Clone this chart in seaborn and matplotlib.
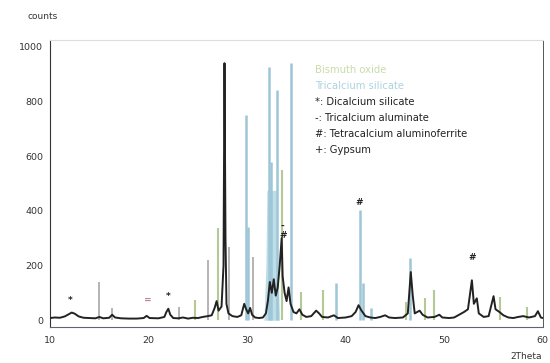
import matplotlib
matplotlib.use("Agg")
import matplotlib.pyplot as plt
import seaborn as sns
import pandas as pd
from matplotlib.ticker import MultipleLocator

# ---- data ----
two_theta = [10.0, 10.5, 11.0, 11.5, 11.9, 12.2, 12.5, 12.9, 13.4, 14.0, 14.6, 15.0, 15.4, 16.0,
             16.3, 16.6, 17.2, 18.0, 18.8, 19.5, 19.8, 20.1, 21.0, 21.6, 21.8, 22.0, 22.2, 22.5,
             23.0, 23.5, 24.0, 24.5, 25.0, 25.5, 26.0, 26.4, 26.7, 26.9, 27.1, 27.4, 27.6, 27.7,
             27.8, 27.9, 28.1, 28.5, 29.0, 29.4, 29.7, 29.9, 30.1, 30.3, 30.5, 30.8, 31.2, 31.6,
             31.9, 32.1, 32.3, 32.5, 32.7, 32.9, 33.1, 33.3, 33.5, 33.6, 33.8, 34.0, 34.2, 34.4,
             34.7, 35.0, 35.3, 35.6, 36.0, 36.5, 37.0, 37.3, 37.6, 38.2, 38.8, 39.2, 40.0, 40.6,
             41.0, 41.3, 41.6, 42.0, 42.5, 43.0, 43.5, 44.0, 44.4, 45.0, 45.8, 46.3, 46.6, 46.8,
             47.0, 47.5, 47.8, 48.3, 49.0, 49.5, 49.8, 50.5, 51.0, 51.5, 52.0, 52.4, 52.8, 53.0,
             53.3, 53.5, 54.0, 54.5, 55.0, 55.2, 55.6, 56.0, 56.5, 57.0, 57.5, 58.0, 58.6, 59.2,
             59.5, 59.8, 60.0]
counts = [8, 10, 9, 14, 22, 28, 24, 14, 9, 8, 7, 12, 7, 9,
          20, 10, 7, 6, 6, 8, 16, 8, 7, 12, 30, 42, 20, 8,
          7, 10, 6, 9, 8, 12, 15, 18, 45, 70, 35, 50, 200, 940,
          300, 60, 25, 15, 12, 18, 60, 40, 25, 45, 20, 10, 8, 10,
          25, 70, 140, 100, 150, 90, 120, 200, 300, 160, 100, 70, 120, 60,
          30, 25, 40, 20, 12, 15, 35, 25, 12, 10, 18, 8, 10, 15,
          30, 55, 35, 15, 10, 8, 12, 18, 10, 8, 10, 25, 176, 90,
          25, 35, 20, 10, 12, 20, 10, 8, 10, 20, 30, 40, 146, 60,
          80, 25, 12, 15, 88, 40, 30, 18, 10, 8, 12, 15, 10, 15,
          33, 10, 8]

# Bismuth oxide reference sticks
bi_pos = [24.7, 27.0, 33.5, 35.5, 37.7, 46.1, 48.0, 49.0, 55.7, 58.4]
bi_int = [73, 337, 549, 103, 110, 66, 80, 110, 85, 48]

# Tricalcium silicate reference sticks
c3s_pos = [29.9, 30.1, 32.2, 32.4, 33.0, 34.4, 39.0, 41.4, 41.8, 42.6, 46.5]
c3s_int = [750, 340, 927, 578, 842, 940, 135, 403, 135, 44, 227]

# filled tricalcium silicate band
c3s_band_x = [31.7, 31.9, 32.0, 33.0, 33.1, 33.3]
c3s_band_y = [0, 200, 475, 475, 200, 0]

# other (grey) sticks
grey_pos = [15.0, 16.3, 23.1, 26.0, 28.2, 30.6]
grey_int = [139, 44, 48, 220, 267, 230]

# phase markers: (2theta, counts, symbol)
mark_x = [12.0, 22.0, 19.9, 33.6, 33.7, 41.4, 52.8]
mark_y = [55, 70, 55, 325, 295, 413, 212]
mark_s = ["*", "*", "=", "-", "#", "#", "#"]

legend_lines = ["Bismuth oxide", "Tricalcium silicate", "*: Dicalcium silicate",
                "-: Tricalcium aluminate", "#: Tetracalcium aluminoferrite", "+: Gypsum"]
legend_colors = ["#c9dcaa", "#add2e2", "#222222", "#222222", "#222222", "#222222"]

x_ticks = [10, 20, 30, 40, 50, 60]
y_ticks = [0, 200, 400, 600, 800, 1000]

# ---- drawing ----
sns.set_style("white")
plt.rcParams['font.family'] = ['DejaVu Sans']

fig = plt.figure(figsize=(5.5, 3.63), dpi=100)
ax = fig.add_axes([0.091, 0.099, 0.896, 0.791])

ax.fill_between(c3s_band_x, c3s_band_y, color="#bddde9", lw=0, zorder=1)
ax.vlines(c3s_pos, 0, c3s_int, colors="#9fc6d6", lw=1.8, zorder=2)
ax.vlines(bi_pos, 0, bi_int, colors="#b5c996", lw=1.5, zorder=2)
ax.vlines(grey_pos, 0, grey_int, colors="#a0a0a0", lw=1.1, zorder=2)

df = pd.DataFrame({"2Theta": two_theta, "counts": counts})
sns.lineplot(data=df, x="2Theta", y="counts", ax=ax, color="#222222", lw=1.4,
             estimator=None, sort=False, zorder=3)

for mx, my, ms in zip(mark_x, mark_y, mark_s):
    ax.text(mx, my, ms, ha="center", va="bottom", fontsize=6.5,
            color="#c08090" if ms == "=" else "#222222", fontweight="bold", zorder=4)

for i, (t, c) in enumerate(zip(legend_lines, legend_colors)):
    ax.text(0.538, 0.895 - i * 0.056, t, transform=ax.transAxes, fontsize=7.2,
            color=c, ha="left", va="center")

ax.set_xlim(10, 60)
ax.set_ylim(-25, 1025)
ax.set_xticks(x_ticks)
ax.set_yticks(y_ticks)
ax.xaxis.set_minor_locator(MultipleLocator(1))
ax.yaxis.set_minor_locator(MultipleLocator(50))
ax.tick_params(axis="both", which="major", labelsize=6.8, colors="#333333",
               length=3, width=0.7, direction="inout")
ax.tick_params(axis="both", which="minor", length=2, width=0.5, color="#555555", direction="in")
ax.tick_params(axis="x", which="both", direction="out")
ax.set_xlabel("")
ax.set_ylabel("")

for s in ["left", "bottom"]:
    ax.spines[s].set_color("#333333")
    ax.spines[s].set_linewidth(0.8)
ax.spines["bottom"].set_color("#6a6070")
ax.spines["right"].set_color("#555555")
ax.spines["right"].set_linewidth(0.7)
ax.spines["top"].set_color("#dddddd")
ax.spines["top"].set_linewidth(0.8)

fig.text(0.05, 0.955, "counts", fontsize=6.5, color="#333333", ha="left", va="center")
fig.text(0.985, 0.018, "2Theta", fontsize=6.5, color="#333333", ha="right", va="center")

fig.savefig("out.png", dpi=100)
